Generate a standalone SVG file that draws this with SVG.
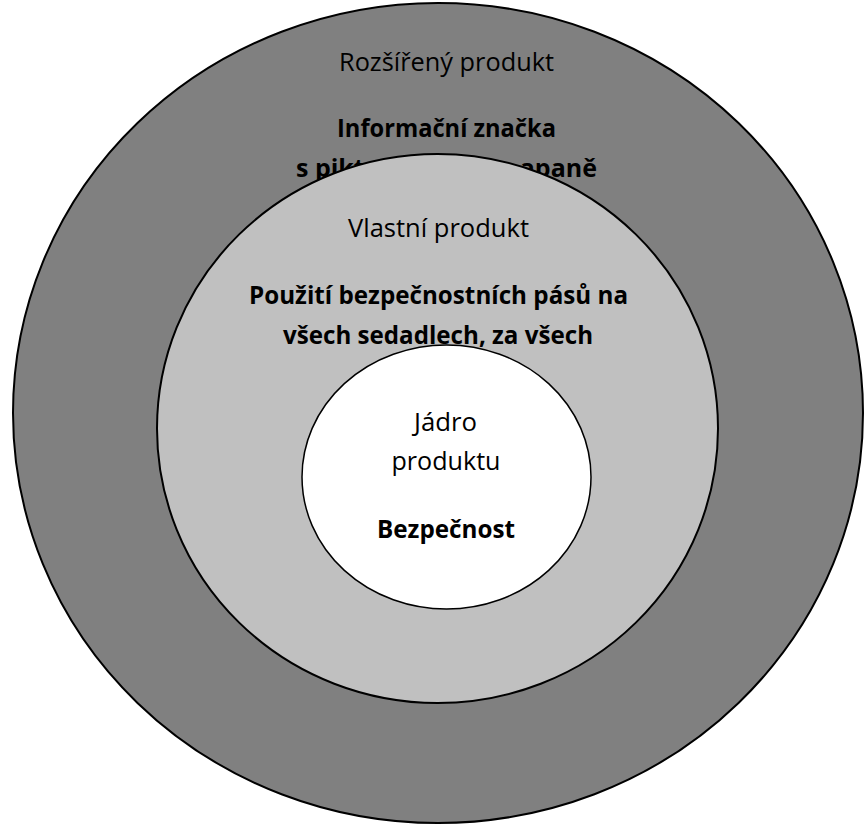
<svg xmlns="http://www.w3.org/2000/svg" width="865" height="825" viewBox="0 0 865 825">
<style>
.ring{stroke:#000;stroke-width:2}
.t{font-family:"Open Sans","Liberation Sans",sans-serif;font-size:25px;fill:#000;text-anchor:middle}
.b{font-weight:bold}
</style>
<rect width="865" height="825" fill="#fff"/>
<g id="connectors"/>
<g id="node-outer">
<ellipse class="ring" cx="438" cy="413" rx="425" ry="410" fill="#808080"/>
<text class="t" x="446.5" y="70.5" textLength="215" lengthAdjust="spacingAndGlyphs">Rozšířený produkt</text>
<text class="t b" x="446.5" y="136.5" textLength="219" lengthAdjust="spacingAndGlyphs">Informační značka</text>
<text class="t b" x="296" y="176.5" style="text-anchor:start">s pikt</text>
<text class="t b" x="597" y="176.5" style="text-anchor:end">apaně</text>
</g>
<g id="node-middle">
<ellipse class="ring" cx="437.5" cy="428.5" rx="280.5" ry="274.5" fill="#c0c0c0"/>
<text class="t" x="438.5" y="237" textLength="181" lengthAdjust="spacingAndGlyphs">Vlastní produkt</text>
<text class="t b" x="438.5" y="304" textLength="379" lengthAdjust="spacingAndGlyphs">Použití bezpečnostních pásů na</text>
<text class="t b" x="438" y="344" textLength="310" lengthAdjust="spacingAndGlyphs">všech sedadlech, za všech</text>
</g>
<g id="node-inner">
<ellipse class="ring" cx="446.5" cy="477" rx="144.5" ry="132" fill="#fff" style="stroke-width:1.5"/>
<text class="t" x="445.5" y="430.5" textLength="63" lengthAdjust="spacingAndGlyphs">Jádro</text>
<text class="t" x="446" y="469.5" textLength="109" lengthAdjust="spacingAndGlyphs">produktu</text>
<text class="t b" x="446" y="538" textLength="138" lengthAdjust="spacingAndGlyphs">Bezpečnost</text>
</g>
</svg>
